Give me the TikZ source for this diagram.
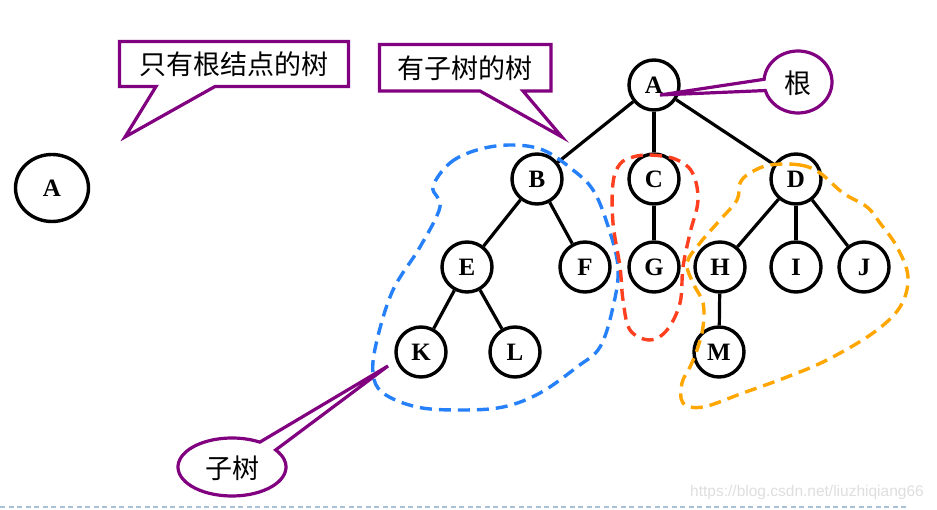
\documentclass[tikz,border=0pt]{standalone}
\usepackage{fontspec}
\setmainfont{Liberation Serif}
\newfontfamily\cjk{Noto Sans CJK SC}
\newfontfamily\wmfont{Liberation Sans}
\usetikzlibrary{shapes.geometric}
\definecolor{cpurple}{RGB}{128,0,128}
\definecolor{sblue}{RGB}{38,128,250}
\definecolor{sred}{RGB}{255,64,32}
\definecolor{sorange}{RGB}{255,166,0}
\definecolor{basecol}{RGB}{169,193,214}
\definecolor{wmgray}{RGB}{222,222,222}
\begin{document}
\begin{tikzpicture}[x=1pt,y=-1pt,
  tnode/.style={circle,draw,line width=3.4pt,minimum size=50pt,inner sep=0pt,fill=white,
    font=\fontsize{25}{25}\selectfont\bfseries},
  treeedge/.style={line width=3.2pt},
  callout/.style={draw=cpurple,line width=3.2pt,fill=white,line join=miter},
  ctext/.style={font=\cjk\fontsize{27}{27}\selectfont,inner sep=0pt},
  subtree/.style={line width=3.4pt,dash pattern=on 12pt off 7pt,line cap=butt}
]
\useasboundingbox (0,0) rectangle (937,510);

% lone root
\node[ellipse,draw,line width=3.4pt,minimum width=73pt,minimum height=67pt,inner sep=0pt,
  font=\fontsize{25}{25}\selectfont\bfseries] (A0) at (52,188) {A};

% tree nodes
\node[tnode] (A) at (654,85) {A};
\node[tnode] (B) at (537,179) {B};
\node[tnode] (C) at (654,179) {C};
\node[tnode] (D) at (796,179) {D};
\node[tnode] (E) at (467,267) {E};
\node[tnode] (F) at (585,267) {F};
\node[tnode] (G) at (654,267) {G};
\node[tnode] (H) at (720,267) {H};
\node[tnode] (I) at (796,267) {I};
\node[tnode] (J) at (864,267) {J};
\node[tnode] (K) at (421,352) {K};
\node[tnode] (L) at (515,352) {L};
\node[tnode] (M) at (719,352) {M};

\draw[treeedge] (A) -- (B);
\draw[treeedge] (A) -- (C);
\draw[treeedge] (A) -- (D);
\draw[treeedge] (B) -- (E);
\draw[treeedge] (B) -- (F);
\draw[treeedge] (E) -- (K);
\draw[treeedge] (E) -- (L);
\draw[treeedge] (C) -- (G);
\draw[treeedge] (D) -- (H);
\draw[treeedge] (D) -- (I);
\draw[treeedge] (D) -- (J);
\draw[treeedge] (H) -- (M);

% subtree outlines
\draw[subtree,sblue] plot[smooth cycle,tension=0.6] coordinates {
 (433,187) (450,163) (477,150) (510,145) (543,150) (573,170) (593,190) (607,223)
 (618,267) (613,307) (600,347) (577,367) (540,393) (503,407) (460,410) (417,407)
 (383,393) (373,373) (377,340) (393,290) (420,247) (440,207)};
\draw[subtree,sred] plot[smooth cycle,tension=0.6] coordinates {
 (633,157) (650,155) (675,159) (692,172) (698,200) (690,233) (683,267) (680,303)
 (667,330) (650,340) (630,330) (623,300) (620,267) (613,223) (613,183) (620,164)};
\draw[subtree,sorange] plot[smooth cycle,tension=0.6] coordinates {
 (770,165) (800,165) (820,173) (843,193) (867,207) (880,223) (897,247) (908,277)
 (900,307) (873,333) (827,360) (787,377) (743,393) (703,407) (683,403) (682,383)
 (690,367) (697,350) (703,327) (703,303) (693,283) (687,263) (700,243) (720,220)
 (737,200) (740,183) (750,173)};

% callouts
\draw[callout] (119.5,41.5) -- (348.5,41.5) -- (348.5,86.5) -- (215,86.5) -- (125,137)
  -- (156,86.5) -- (119.5,86.5) -- cycle;
\node[ctext] (t1) at (234,64) {只有根结点的树};

\draw[callout] (379.5,44.5) -- (551,44.5) -- (551,91) -- (523,91) -- (562,137)
  -- (480,91) -- (379.5,91) -- cycle;
\node[ctext] (t2) at (465,68) {有子树的树};

\draw[callout] (798,82) ++(185:34 and 31)
  arc[start angle=185,end angle=524,x radius=34,y radius=31] -- (660,95) -- cycle;
\node[ctext] (t3) at (798,83) {根};

\draw[callout] (232,467) ++(324:54 and 29)
  arc[start angle=324,end angle=661,x radius=54,y radius=29] -- (388,366) -- cycle;
\node[ctext] (t4) at (232,468) {子树};

% watermark and bottom line
\node[font=\wmfont\fontsize{15.5}{15.5}\selectfont,text=wmgray,inner sep=0pt] (wm) at (807,492)
  {https://blog.csdn.net/liuzhiqiang66};
\coordinate (bl) at (0,507);
\coordinate (br) at (908,507);
\draw[basecol,line width=2pt,dash pattern=on 5pt off 3.5pt] (bl) -- (br);
\end{tikzpicture}
\end{document}
